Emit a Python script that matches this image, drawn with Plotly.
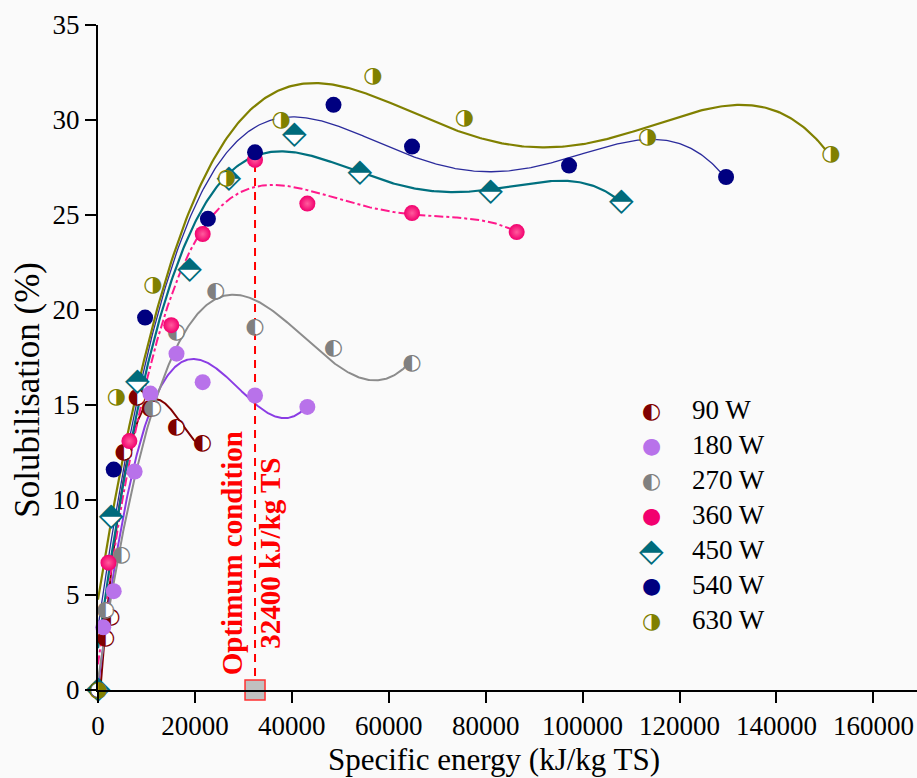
import numpy as np
import plotly.graph_objects as go

# ---------------- data ----------------
series_names = ["90 W", "180 W", "270 W", "360 W", "450 W", "540 W", "630 W"]

x_90 = [0, 1620, 2700, 5400, 8100, 10800, 16200, 21600]
y_90 = [0, 2.7, 3.8, 12.5, 15.4, 14.8, 13.8, 13.0]

x_180 = [0, 1080, 3240, 7560, 10800, 16200, 21600, 32400, 43200]
y_180 = [0, 3.3, 5.2, 11.5, 15.6, 17.7, 16.2, 15.5, 14.9]

x_270 = [0, 1620, 4860, 11340, 16200, 24300, 32400, 48600, 64800]
y_270 = [0, 4.2, 7.1, 14.8, 18.8, 21.0, 19.1, 18.0, 17.2]

x_360 = [0, 2160, 6480, 15120, 21600, 32400, 43200, 64800, 86400]
y_360 = [0, 6.7, 13.1, 19.2, 24.0, 27.9, 25.6, 25.1, 24.1]

x_450 = [0, 2700, 8100, 18900, 27000, 40500, 54000, 81000, 108000]
y_450 = [0, 9.1, 16.2, 22.1, 26.9, 29.2, 27.2, 26.2, 25.7]

x_540 = [0, 3240, 9720, 22680, 32400, 48600, 64800, 97200, 129600]
y_540 = [0, 11.6, 19.6, 24.8, 28.3, 30.8, 28.6, 27.6, 27.0]

x_630 = [0, 3780, 11340, 26460, 37800, 56700, 75600, 113400, 151200]
y_630 = [0, 15.4, 21.3, 26.9, 30.0, 32.3, 30.1, 29.1, 28.2]

optimum_energy = 32400        # kJ/kg TS
optimum_label = ["Optimum condition", "32400 kJ/kg TS"]

x_ticks = [0, 20000, 40000, 60000, 80000, 100000, 120000, 140000, 160000]
y_ticks = [0, 5, 10, 15, 20, 25, 30, 35]

# ---------------- styles ----------------
FONT = "Liberation Serif"
SYMFONT = "DejaVu Sans"
LEFT_HALF, RIGHT_HALF, DIAMOND_TOP = "\u25D0", "\u25D1", "\u2B18"

styles = {
    "90 W":  dict(col="#800000", lc="#800000", kind="glyph", glyph=LEFT_HALF, lw=2.0, dash="solid", deg=3),
    "180 W": dict(col="#b872ea", lc="#8a3ce4", kind="solid", lw=2.0, dash="solid", deg=3),
    "270 W": dict(col="#808080", lc="#8c8c8c", kind="glyph", glyph=LEFT_HALF, lw=2.0, dash="solid", deg=3),
    "360 W": dict(col="#f2006e", lc="#ff1a8c", kind="ball", lw=2.0, dash="dashdot", deg=4),
    "450 W": dict(col="#006b7b", lc="#00707f", kind="glyph", glyph=DIAMOND_TOP, lw=2.2, dash="solid", deg=4),
    "540 W": dict(col="#000080", lc="#2b2b9c", kind="solid", lw=1.3, dash="solid", deg=4),
    "630 W": dict(col="#808000", lc="#808000", kind="glyph", glyph=RIGHT_HALF, lw=2.2, dash="solid", deg=4),
}
data = {
    "90 W": (x_90, y_90), "180 W": (x_180, y_180), "270 W": (x_270, y_270),
    "360 W": (x_360, y_360), "450 W": (x_450, y_450), "540 W": (x_540, y_540),
    "630 W": (x_630, y_630),
}

GLYPH_SIZE = 22
DIAMOND_GLYPH_SIZE = 32
MARK_SIZE = 15

fig = go.Figure()

# fitted curves
for name in series_names:
    xs, ys = np.array(data[name][0], float), np.array(data[name][1], float)
    s = styles[name]
    xmax = xs.max()
    coef = np.polyfit(xs / xmax, ys, s["deg"])
    xf = np.linspace(0, xmax, 400)
    yf = np.polyval(coef, xf / xmax)
    fig.add_trace(go.Scatter(x=xf, y=yf, mode="lines", showlegend=False, hoverinfo="skip",
                             line=dict(color=s["lc"], width=s["lw"], dash=s["dash"])))

# optimum vertical dashed line
fig.add_trace(go.Scatter(x=[optimum_energy, optimum_energy], y=[0, y_360[x_360.index(optimum_energy)]],
                         mode="lines", showlegend=False, hoverinfo="skip",
                         line=dict(color="#ff0000", width=2, dash="8px,6px")))

# markers
for name in series_names:
    xs, ys = data[name]
    s = styles[name]
    if s["kind"] == "solid":
        fig.add_trace(go.Scatter(x=xs, y=ys, mode="markers", showlegend=False, cliponaxis=False,
                                 marker=dict(symbol="circle", size=MARK_SIZE + 1, color=s["col"],
                                             line=dict(width=0))))
    elif s["kind"] == "ball":
        fig.add_trace(go.Scatter(x=xs, y=ys, mode="markers", showlegend=False, cliponaxis=False,
                                 marker=dict(symbol="circle", size=MARK_SIZE + 1, color=s["col"],
                                             gradient=dict(type="radial", color="#ff5c9d"),
                                             line=dict(width=0))))
    else:
        is_diamond = s["glyph"] == DIAMOND_TOP
        fig.add_trace(go.Scatter(x=xs, y=ys, mode="markers", showlegend=False, cliponaxis=False,
                                 marker=dict(symbol="diamond" if is_diamond else "circle",
                                             size=16 if is_diamond else MARK_SIZE - 1, color="#ffffff",
                                             line=dict(width=0))))
        fig.add_trace(go.Scatter(x=xs, y=ys, mode="text", showlegend=False, cliponaxis=False,
                                 text=[s["glyph"]] * len(xs), textposition="middle center",
                                 textfont=dict(family=SYMFONT,
                                               size=DIAMOND_GLYPH_SIZE if is_diamond else GLYPH_SIZE,
                                               color=s["col"])))

# optimum marker on axis
fig.add_trace(go.Scatter(x=[optimum_energy], y=[0], mode="markers", showlegend=False, cliponaxis=False,
                         marker=dict(symbol="square", size=20, color="#c0c0c0",
                                     line=dict(color="#ff3030", width=1.5))))

annotations = [
    dict(x=optimum_energy, y=7.2, xref="x", yref="y", xshift=-4,
         text="<b>" + optimum_label[0] + "</b><br><b>" + optimum_label[1] + "</b>",
         textangle=-90, showarrow=False, xanchor="center", yanchor="middle",
         font=dict(family=FONT, size=29, color="#ff0000", weight="bold"), align="center"),
    dict(x=0.4835, y=-0.105, xref="paper", yref="paper", text="Specific energy (kJ/kg TS)",
         showarrow=False, xanchor="center", yanchor="middle", font=dict(family=FONT, size=31)),
    dict(x=-0.086, y=0.451, xref="paper", yref="paper", text="Solubilisation (%)", textangle=-90,
         showarrow=False, xanchor="center", yanchor="middle", font=dict(family=FONT, size=35)),
]

# legend (symbol glyph + label per row)
legend_glyph = {"90 W": LEFT_HALF, "180 W": "\u25CF", "270 W": LEFT_HALF, "360 W": "\u25CF",
                "450 W": DIAMOND_TOP, "540 W": "\u25CF", "630 W": RIGHT_HALF}
plot_w, plot_h = 917 - 98, 778 - 25 - 88
row0_px, row_gap_px = 410, 35
for i, name in enumerate(series_names):
    ypaper = (plot_h - (row0_px + i * row_gap_px - 25)) / plot_h
    gsize = DIAMOND_GLYPH_SIZE if legend_glyph[name] == DIAMOND_TOP else GLYPH_SIZE
    annotations.append(dict(x=(651 - 98) / plot_w, y=ypaper, xref="paper", yref="paper",
                            text=legend_glyph[name], showarrow=False, xanchor="center", yanchor="middle",
                            font=dict(family=SYMFONT, size=gsize, color=styles[name]["col"])))
    annotations.append(dict(x=(690 - 98) / plot_w, y=ypaper, xref="paper", yref="paper",
                            text=name, showarrow=False, xanchor="left", yanchor="middle",
                            font=dict(family=FONT, size=27, color="#000000")))

fig.update_layout(
    width=917, height=778,
    margin=dict(l=98, r=0, t=25, b=88),
    paper_bgcolor="#fafafa", plot_bgcolor="#fafafa",
    font=dict(family=FONT, size=27, color="#000000"),
    showlegend=False,
    annotations=annotations,
)
fig.update_xaxes(range=[0, 169000], tickvals=x_ticks, ticktext=[str(v) for v in x_ticks],
                 showgrid=False, zeroline=False, showline=True, linecolor="#000000", linewidth=2,
                 ticks="outside", ticklen=11, tickwidth=2, tickcolor="#000000",
                 tickfont=dict(family=FONT, size=27))
fig.update_yaxes(range=[0, 35], tickvals=y_ticks, ticktext=[str(v) for v in y_ticks],
                 showgrid=False, zeroline=False, showline=True, linecolor="#000000", linewidth=2,
                 ticks="outside", ticklen=11, tickwidth=2, tickcolor="#000000",
                 tickfont=dict(family=FONT, size=27))

fig.write_html("out.html")
